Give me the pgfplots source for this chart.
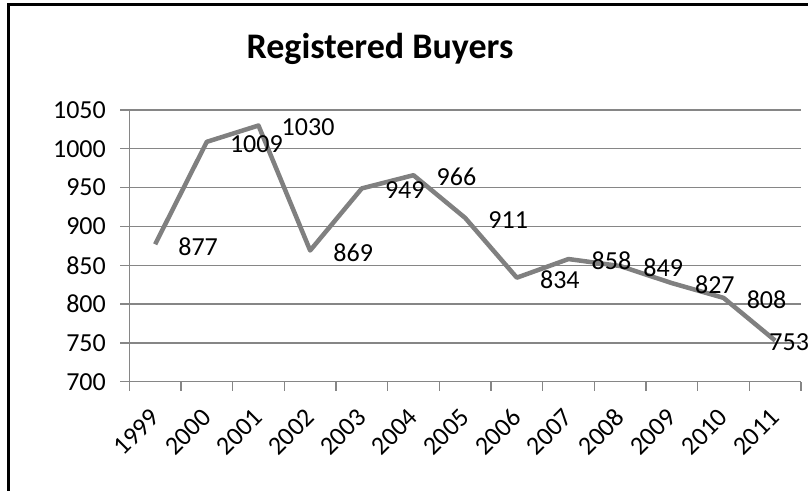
\documentclass[border=0pt]{standalone}
\usepackage{pgfplots}
\pgfplotsset{compat=1.18}
\usepackage{fontspec}
\setmainfont{Carlito}
\definecolor{linegray}{RGB}{128,128,128}
\definecolor{gridgray}{RGB}{134,134,134}
\begin{document}
\begin{tikzpicture}
\path[use as bounding box] (0bp,0bp) rectangle (808bp,491bp);
\fill[white] (0bp,0bp) rectangle (808bp,491bp);
\draw[line width=3.4bp] (8.5bp,-2bp) -- (8.5bp,486.3bp) -- (810bp,486.3bp);
\node[anchor=base, inner sep=0pt, font=\fontsize{36bp}{42bp}\selectfont\bfseries] at (380bp,432bp) {Registered Buyers};
\begin{axis}[
  at={(129.3bp,109.3bp)}, anchor=south west,
  scale only axis, width=671.7bp, height=271.7bp,
  xmin=-0.5, xmax=12.5, ymin=700, ymax=1050,
  ytick={700,750,...,1050},
  xtick={-0.5,0.5,...,12.5},
  xticklabels={},
  extra x ticks={0,...,12},
  extra x tick labels={1999,2000,2001,2002,2003,2004,2005,2006,2007,2008,2009,2010,2011},
  extra x tick style={major tick length=0pt},
  axis x line*=bottom, axis y line*=left,
  axis line style={gridgray, line width=1.3bp, -},
  ymajorgrids, grid style={gridgray, line width=1.3bp},
  tick align=outside,
  major tick length=9bp,
  tick style={gridgray, line width=1.3bp},
  ticklabel style={font=\fontsize{26bp}{30bp}\selectfont, text=black},
  yticklabel style={anchor=east, inner sep=0pt},
  yticklabel shift=14.3bp,
  xticklabel style={rotate=45, anchor=east, inner sep=0pt},
  xticklabel shift=31.6bp,
  /pgf/number format/assume math mode=true,
  /pgf/number format/1000 sep={},
  clip=false,
]
\addplot[linegray, line width=4.5bp, mark=none, line join=round,
  nodes near coords,
  point meta=explicit,
  visualization depends on={\thisrow{dx} \as \dx},
  nodes near coords style={anchor=west, inner sep=0pt, xshift={\dx*1bp}, yshift=-2bp,
    font=\fontsize{26bp}{30bp}\selectfont, text=black,
    /pgf/number format/1000 sep={}, /pgf/number format/assume math mode=true},
] table[x=x, y=y, meta=y] {
x y dx
0 877 21
1 1009 21
2 1030 21
3 869 21
4 949 21
5 966 21
6 911 21
7 834 21
8 858 21
9 849 21
10 827 21
11 808 21
12 753 -8
};
\end{axis}
\end{tikzpicture}
\end{document}
